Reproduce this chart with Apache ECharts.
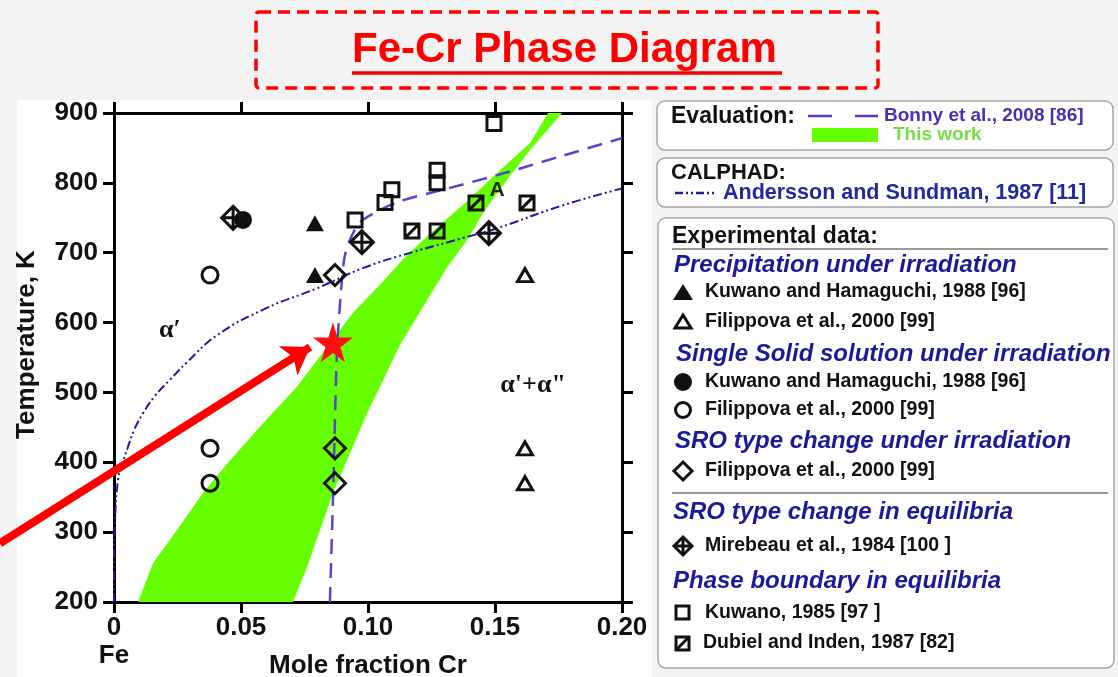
<!DOCTYPE html>
<html>
<head>
<meta charset="utf-8">
<script src="https://cdn.jsdelivr.net/npm/echarts@6/dist/echarts.min.js"></script>
<style>
html,body{margin:0;padding:0;background:#f3f3f3;}
#chart{width:1118px;height:677px;}
</style>
</head>
<body>
<div id="chart"></div>
<script>
// ---------- data ----------
const xTickLabels = ['0', '0.05', '0.10', '0.15', '0.20'];
const originLabel = 'Fe';
const yTickLabels = ['200', '300', '400', '500', '600', '700', '800', '900'];

// "This work" band: low-Cr boundary and high-Cr boundary (mole fraction, K)
const bandLeft = [[0.0095,200],[0.0102,207],[0.0154,256],[0.0248,303],[0.0350,356],[0.0457,403],[0.0587,456],
  [0.0720,508],[0.0839,565],[0.0941,614],[0.1047,654],[0.1146,694],[0.1256,731],[0.1382,771],[0.1520,818],[0.1638,857],[0.1709,900]];
const bandRight = [[0.0705,200],[0.0760,250],[0.0811,303],[0.0862,356],[0.0929,413],[0.0996,470],[0.1047,508],
  [0.1126,568],[0.1232,632],[0.1311,679],[0.1390,718],[0.1453,757],[0.1547,804],[0.1638,847],[0.1764,900]];

// Bonny et al., 2008 (dashed)
const bonny = [[0.0850,200],[0.0862,346],[0.0870,460],[0.0878,560],[0.0894,646],[0.0909,696],[0.0937,725],
  [0.0976,746],[0.1114,772],[0.1283,789],[0.1508,811],[0.1768,839],[0.2000,864]];
// Andersson and Sundman, 1987 (dash-dot-dot)
const andersson = [[0,200],[0,260],[0.0004,317],[0.0016,375],[0.0035,400],[0.0055,422],[0.0079,446],[0.0114,470],[0.0161,495],[0.0220,518],
  [0.0287,543],[0.0406,582],[0.0602,621],[0.0799,649],[0.0980,678],[0.1177,701],[0.1374,721],[0.1508,735],[0.1768,768],[0.2000,792]];

// experimental data
const kuwanoHamaPrecip = [[0.0791,742],[0.0791,668]];
const filippovaPrecip = [[0.1618,668],[0.1618,420],[0.1618,370]];
const mirebeauSRO = [[0.0469,750],[0.0976,715],[0.1476,728]];
const kuwanoHamaSolid = [[0.0508,747]];
const filippovaSolid = [[0.0378,668],[0.0378,420],[0.0378,370]];
const filippovaSRO = [[0.0870,668],[0.0870,420],[0.0870,370]];
const kuwanoBoundary = [[0.0949,747],[0.1067,772],[0.1094,790],[0.1272,818],[0.1272,800],[0.1496,885]];
const dubielBoundary = [[0.1173,731],[0.1272,731],[0.1425,771],[0.1626,771]];
const starPoint = [[0.0862,572]];
const arrowLine = [[-0.0449,284],[0.0772,565]];

const regionLabels = [
  {name: 'α′', value: [0.0220, 589]},
  {name: 'α\'+α"', value: [0.1650, 510]},
  {name: 'A', value: [0.1508, 790]}
];

// ---------- chart ----------
const SANS = '"Liberation Sans", Arial, Helvetica, sans-serif';
const SERIF = '"Liberation Serif", "Times New Roman", serif';
const chart = echarts.init(document.getElementById('chart'), null, {renderer: 'canvas'});

const open = (sym, size, extra) => Object.assign({
  type: 'scatter', symbol: sym, symbolSize: size, z: 5,
  itemStyle: {color: 'rgba(255,255,255,0)', borderColor: '#111', borderWidth: 3, opacity: 1}
}, extra || {});

const diamondCross = 'path://M0,-10L10,0L0,10L-10,0Z M0,-10L0,10 M-10,0L10,0';
const slashSquare = 'path://M0,0L10,0L10,10L0,10Z M0,10L10,0';
const starPath = 'path://M50,0L61,35L98,35L68,57L79,91L50,70L21,91L32,57L2,35L39,35Z';

const axisLineStyle = {show: true, onZero: false, lineStyle: {color: '#000', width: 3}};
const tickStyle = {show: true, length: 11, lineStyle: {color: '#000', width: 3}};
const labelFont = {fontFamily: SANS, fontSize: 26, fontWeight: 'bold', color: '#111'};
const nameFont = {fontFamily: SANS, fontSize: 26, fontWeight: 'bold', color: '#111'};

const BLUE = '#1a1a9a';
function legendText(x, y, text, opts) {
  return {type: 'text', x: x, y: y, z: 10, style: Object.assign({
    text: text, fill: '#111', fontFamily: SANS, fontSize: 19.5, fontWeight: 'bold', verticalAlign: 'middle', align: 'left'
  }, opts || {})};
}
function header(x, y, text) {
  return legendText(x, y, text, {fill: BLUE, fontSize: 24, fontStyle: 'italic'});
}
const symStroke = {stroke: '#111', lineWidth: 3, fill: 'none'};
const graphics = [
  // figure background
  {type: 'rect', z: -10, silent: true, shape: {x: 17, y: 100, width: 635, height: 577}, style: {fill: '#ffffff'}},
  // title frame
  {type: 'rect', z: 10, shape: {x: 256, y: 12, width: 622, height: 76, r: 3},
    style: {fill: 'none', stroke: '#ff0000', lineWidth: 3.5, lineDash: [12, 7]}},
  {type: 'line', z: 10, shape: {x1: 352, y1: 73, x2: 782, y2: 73}, style: {stroke: '#ff0000', lineWidth: 3.5}},
  // box 1
  {type: 'rect', z: 9, shape: {x: 657, y: 101, width: 456, height: 49, r: 8}, style: {fill: '#ffffff', stroke: '#a6a6a6', lineWidth: 1.5}},
  legendText(671, 117, 'Evaluation:', {fontSize: 23}),
  {type: 'line', z: 10, shape: {x1: 808, y1: 116, x2: 832, y2: 116}, style: {stroke: '#4a3cc8', lineWidth: 2.5}},
  {type: 'line', z: 10, shape: {x1: 855, y1: 116, x2: 878, y2: 116}, style: {stroke: '#4a3cc8', lineWidth: 2.5}},
  legendText(884, 116, 'Bonny et al., 2008 [86]', {fill: '#4a2fb8', fontSize: 19}),
  {type: 'rect', z: 10, shape: {x: 812, y: 128, width: 66, height: 14}, style: {fill: '#66ff00'}},
  legendText(893, 135, 'This work', {fill: '#77dd44', fontSize: 19}),
  // box 2
  {type: 'rect', z: 9, shape: {x: 657, y: 158, width: 456, height: 49, r: 8}, style: {fill: '#ffffff', stroke: '#a6a6a6', lineWidth: 1.5}},
  legendText(671, 173, 'CALPHAD:', {fontSize: 22}),
  {type: 'line', z: 10, shape: {x1: 675, y1: 193, x2: 717, y2: 193}, style: {stroke: '#1c1ca6', lineWidth: 2.5, lineDash: [8, 3, 2, 3, 2, 3]}},
  legendText(723, 193, 'Andersson and Sundman, 1987 [11]', {fill: '#1f2aa0', fontSize: 21.5}),
  // box 3
  {type: 'rect', z: 9, shape: {x: 658, y: 218, width: 456, height: 450, r: 8}, style: {fill: '#ffffff', stroke: '#a6a6a6', lineWidth: 1.5}},
  legendText(672, 237, 'Experimental data:', {fontSize: 23}),
  {type: 'line', z: 10, shape: {x1: 672, y1: 249, x2: 1108, y2: 249}, style: {stroke: '#777', lineWidth: 1.5}},
  header(674, 265, 'Precipitation under irradiation'),
  {type: 'polygon', z: 10, shape: {points: [[683, 284], [693, 300], [673, 300]]}, style: {fill: '#111'}},
  legendText(705, 292, 'Kuwano and Hamaguchi, 1988 [96]'),
  {type: 'polygon', z: 10, shape: {points: [[683, 315], [691, 328], [675, 328]]}, style: symStroke},
  legendText(705, 322, 'Filippova et al., 2000 [99]'),
  header(676, 354, 'Single Solid solution under irradiation'),
  {type: 'circle', z: 10, shape: {cx: 683, cy: 382, r: 9}, style: {fill: '#111'}},
  legendText(705, 382, 'Kuwano and Hamaguchi, 1988 [96]'),
  {type: 'circle', z: 10, shape: {cx: 683, cy: 410, r: 7.5}, style: symStroke},
  legendText(705, 410, 'Filippova et al., 2000 [99]'),
  header(675, 441, 'SRO type change under irradiation'),
  {type: 'polygon', z: 10, shape: {points: [[683, 462], [692, 471], [683, 480], [674, 471]]}, style: symStroke},
  legendText(705, 471, 'Filippova et al., 2000 [99]'),
  {type: 'line', z: 10, shape: {x1: 672, y1: 493, x2: 1108, y2: 493}, style: {stroke: '#777', lineWidth: 1.5}},
  header(673, 512, 'SRO type change in equilibria'),
  {type: 'polygon', z: 10, shape: {points: [[683, 537], [692, 546], [683, 555], [674, 546]]}, style: symStroke},
  {type: 'line', z: 10, shape: {x1: 683, y1: 537, x2: 683, y2: 555}, style: {stroke: '#111', lineWidth: 3}},
  {type: 'line', z: 10, shape: {x1: 674, y1: 546, x2: 692, y2: 546}, style: {stroke: '#111', lineWidth: 3}},
  legendText(705, 546, 'Mirebeau et al., 1984 [100 ]'),
  header(673, 581, 'Phase boundary in equilibria'),
  {type: 'rect', z: 10, shape: {x: 676, y: 606, width: 13, height: 13}, style: symStroke},
  legendText(705, 613, 'Kuwano, 1985 [97 ]'),
  {type: 'rect', z: 10, shape: {x: 676, y: 637, width: 13, height: 13}, style: symStroke},
  {type: 'line', z: 10, shape: {x1: 676, y1: 650, x2: 689, y2: 637}, style: {stroke: '#111', lineWidth: 3}},
  legendText(703, 643, 'Dubiel and Inden, 1987 [82]')
];

const option = {
  backgroundColor: '#f3f3f3',
  animation: false,
  title: {
    text: 'Fe-Cr Phase Diagram', left: 352, top: 29, padding: 0,
    textStyle: {color: '#ff0000', fontFamily: SANS, fontSize: 42, fontWeight: 'bold'}
  },
  grid: {left: 114, right: 496, top: 113, bottom: 75, containLabel: false, outerBoundsMode: 'none'},
  xAxis: [
    {type: 'value', position: 'bottom', min: 0, max: 0.2, interval: 0.05,
      axisLine: axisLineStyle, axisTick: tickStyle, splitLine: {show: false},
      axisLabel: Object.assign({margin: 12, lineHeight: 28, formatter: function (v) {
        const i = Math.round(v / 0.05);
        return i === 0 ? xTickLabels[0] + '\n' + originLabel : xTickLabels[i];
      }}, labelFont),
      name: 'Mole fraction Cr', nameLocation: 'middle', nameGap: 51, nameMoveOverlap: false, nameTextStyle: nameFont},
    {type: 'value', position: 'top', min: 0, max: 0.2, interval: 0.05,
      axisLine: axisLineStyle, axisTick: tickStyle, splitLine: {show: false}, axisLabel: {show: false}}
  ],
  yAxis: [
    {type: 'value', position: 'left', min: 200, max: 900, interval: 100,
      axisLine: axisLineStyle, axisTick: tickStyle, splitLine: {show: false},
      axisLabel: Object.assign({margin: 16, formatter: function (v) { return yTickLabels[Math.round((v - 200) / 100)]; }}, labelFont),
      name: 'Temperature, K', nameLocation: 'middle', nameGap: 74, nameMoveOverlap: false,
      nameTextStyle: Object.assign({padding: [0, 0, 0, 26]}, nameFont)},
    {type: 'value', position: 'right', min: 200, max: 900, interval: 100,
      axisLine: axisLineStyle, axisTick: tickStyle, splitLine: {show: false}, axisLabel: {show: false}}
  ],
  graphic: graphics,
  series: [
    {type: 'custom', name: 'This work', clip: true, silent: true, z: 1, data: [[0.1, 500]],
      renderItem: function (params, api) {
        const pts = bandLeft.concat(bandRight.slice().reverse()).map(function (p) { return api.coord(p); });
        return {type: 'polygon', shape: {points: pts}, style: {fill: '#66ff00'}};
      }},
    {type: 'line', name: 'Bonny et al., 2008', data: bonny, showSymbol: false, smooth: 0.3, z: 3,
      lineStyle: {color: '#5546d2', width: 2.5, type: [15, 9]}},
    {type: 'line', name: 'Andersson and Sundman, 1987', data: andersson, showSymbol: false, smooth: 0.45, z: 3,
      lineStyle: {color: '#1c1ca6', width: 2, type: [9, 3, 2, 3, 2, 3]}},
    {type: 'scatter', name: 'Kuwano and Hamaguchi 1988 precipitation', data: kuwanoHamaPrecip, symbol: 'triangle', symbolSize: [18, 16], z: 5,
      itemStyle: {color: '#111', opacity: 1}},
    open('triangle', [15, 13], {name: 'Filippova 2000 precipitation', data: filippovaPrecip}),
    open(diamondCross, 23, {name: 'Mirebeau 1984', data: mirebeauSRO}),
    {type: 'scatter', name: 'Kuwano and Hamaguchi 1988 solid solution', data: kuwanoHamaSolid, symbol: 'circle', symbolSize: 18, z: 5,
      itemStyle: {color: '#111', opacity: 1}},
    open('circle', 16, {name: 'Filippova 2000 solid solution', data: filippovaSolid}),
    open('diamond', 21, {name: 'Filippova 2000 SRO', data: filippovaSRO}),
    open('rect', 14, {name: 'Kuwano 1985', data: kuwanoBoundary}),
    open(slashSquare, 14, {name: 'Dubiel and Inden 1987', data: dubielBoundary}),
    {type: 'scatter', name: 'labels', data: regionLabels, symbol: 'circle', symbolSize: 1, z: 6, silent: true,
      itemStyle: {color: 'rgba(0,0,0,0)', opacity: 1},
      label: {show: true, position: 'inside', formatter: '{b}', fontFamily: SERIF, fontSize: 26, fontWeight: 'bold', color: '#111', opacity: 1},
      labelLayout: {hideOverlap: false}},
    {type: 'lines', coordinateSystem: 'cartesian2d', clip: false, z: 7, silent: true,
      data: [{coords: arrowLine}], symbol: ['none', 'arrow'], symbolSize: [1, 26],
      lineStyle: {color: '#ff0000', width: 8, opacity: 1, curveness: 0}},
    {type: 'scatter', name: 'star', data: starPoint, symbol: starPath, symbolSize: 40, z: 8,
      itemStyle: {color: '#ff1010', opacity: 1}}
  ]
};
// "A" label styled as sans
option.series[11].data[2].label = {fontFamily: SANS, fontWeight: 'bold', fontSize: 21, color: '#222'};
chart.setOption(option);
</script>
</body>
</html>
